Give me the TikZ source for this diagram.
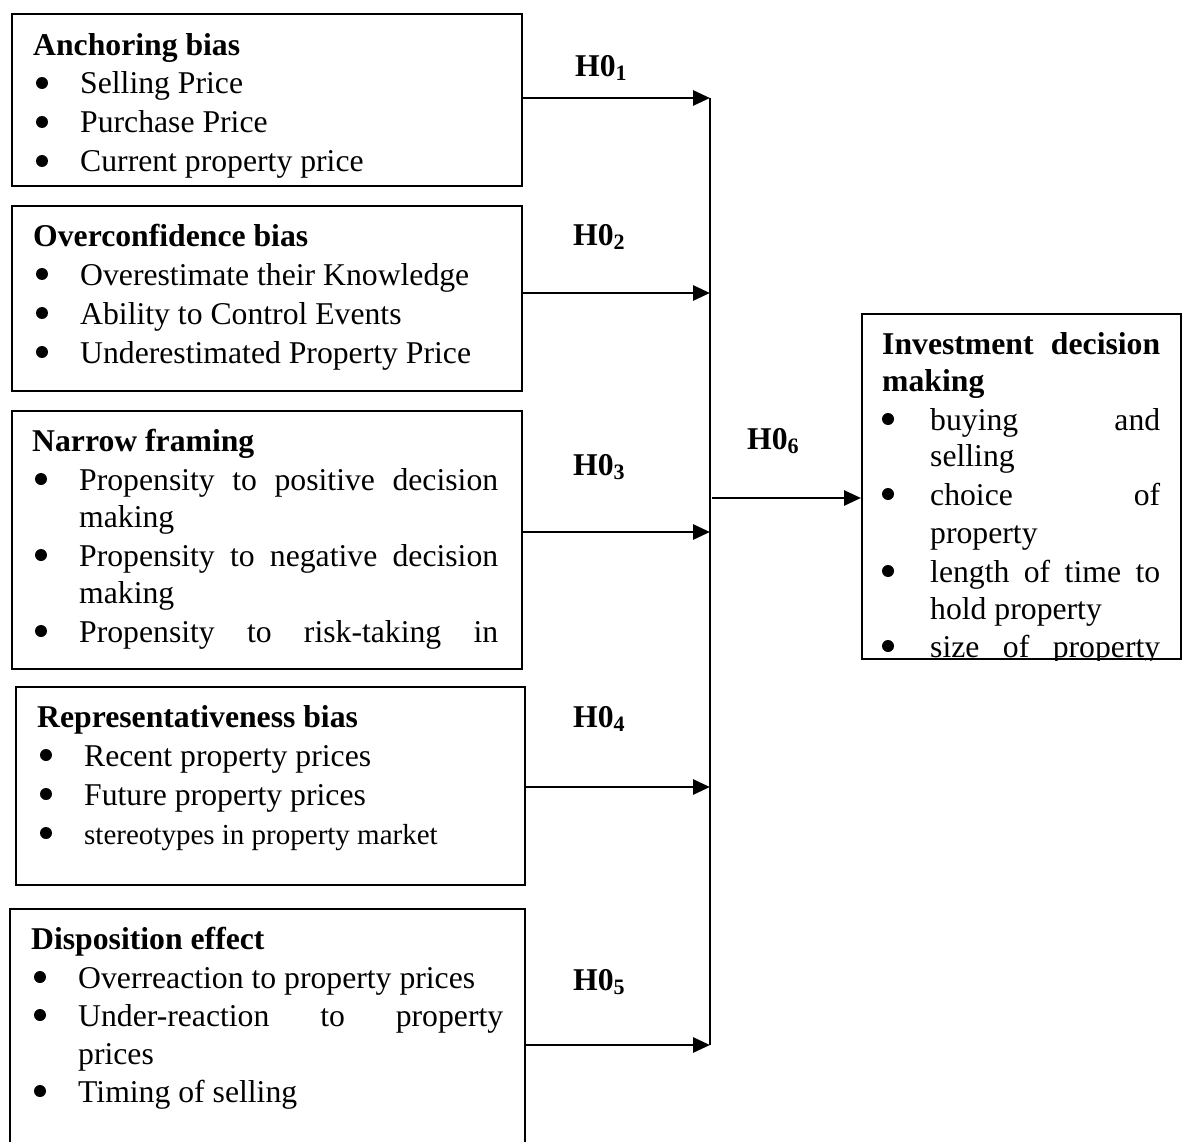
\documentclass[tikz,border=0pt]{standalone}
\usepackage{fontspec}
\setmainfont{Liberation Serif}
\usetikzlibrary{arrows.meta}
\tikzstyle{box}=[draw,line width=2pt,rectangle,anchor=north west,inner sep=0pt]
\tikzstyle{txt}=[anchor=base west,inner sep=0pt,font=\fontsize{31.7}{38}\selectfont]
\tikzstyle{head}=[anchor=base west,inner sep=0pt,font=\fontsize{31.7}{38}\selectfont\bfseries]
\tikzstyle{bus}=[draw,line width=2.8pt]
\tikzstyle{line}=[draw,line width=2.8pt,-{Triangle[length=17pt,width=15pt]}]
\newcommand{\hsub}[1]{H0\raisebox{-4pt}{\fontsize{22}{22}\selectfont #1}}

\begin{document}
\begin{tikzpicture}[x=1pt,y=-1pt]
  \useasboundingbox (0,0) rectangle (1186,1142);
  % boxes
  \node[box,minimum width=510pt,minimum height=172pt] (anchoring) at (11,13) {};
  \node[box,minimum width=510pt,minimum height=185pt] (overconf) at (11,205) {};
  \node[box,minimum width=510pt,minimum height=258pt] (narrow) at (11,410) {};
  \node[box,minimum width=509pt,minimum height=198pt] (repr) at (15,686) {};
  \node[box,minimum width=515pt,minimum height=250pt] (disp) at (9,908) {};
  \node[box,minimum width=319pt,minimum height=345pt] (invest) at (861,313) {};
  % bullets
  \foreach \y in {83,122,161,274,313,352} \fill (42,\y) circle (6pt);
  \foreach \y in {479,555,631} \fill (41,\y) circle (6pt);
  \foreach \y in {755,794,833} \fill (46,\y) circle (6pt);
  \foreach \y in {977,1015,1091} \fill (40,\y) circle (6pt);
  \foreach \y in {419,494,571,646} \fill (888,\y) circle (6pt);
  % anchoring bias
  \node[head] (anchoringT) at (33,56) {Anchoring bias};
  \node[txt] (anchoring1) at (80,94) {Selling Price};
  \node[txt] (anchoring2) at (80,133) {Purchase Price};
  \node[txt] (anchoring3) at (80,172) {Current property price};
  % overconfidence bias
  \node[head] (overconfT) at (33,247) {Overconfidence bias};
  \node[txt] (overconf1) at (80,285) {Overestimate their Knowledge};
  \node[txt] (overconf2) at (80,324) {Ability to Control Events};
  \node[txt] (overconf3) at (80,363) {Underestimated Property Price};
  % narrow framing
  \node[head] (narrowT) at (32,451) {Narrow framing};
  \node[txt] (narrow1) at (79,490) {\makebox[419pt][s]{Propensity to positive decision}};
  \node[txt] (narrow2) at (79,527) {making};
  \node[txt] (narrow3) at (79,566) {\makebox[419pt][s]{Propensity to negative decision}};
  \node[txt] (narrow4) at (79,603) {making};
  \node[txt] (narrow5) at (79,642) {\makebox[419pt][s]{Propensity to risk-taking in}};
  % representativeness bias
  \node[head] (reprT) at (37,727) {Representativeness bias};
  \node[txt] (repr1) at (84,766) {Recent property prices};
  \node[txt] (repr2) at (84,805) {Future property prices};
  \node[txt,font=\fontsize{29}{35}\selectfont] (repr3) at (84,844) {stereotypes in property market};
  % disposition effect
  \node[head] (dispT) at (31,949) {Disposition effect};
  \node[txt] (disp1) at (78,988) {Overreaction to property prices};
  \node[txt] (disp2) at (78,1026) {\makebox[425pt][s]{Under-reaction to property}};
  \node[txt] (disp3) at (78,1064) {prices};
  \node[txt] (disp4) at (78,1102) {Timing of selling};
  % investment decision making
  \begin{scope}
    \clip (invest.north west) rectangle (invest.south east);
    \node[head] (investT) at (882,354) {\makebox[278pt][s]{Investment decision}};
    \node[head] (investT2) at (882,391) {making};
    \node[txt] (invest1) at (930,430) {\makebox[230pt][s]{buying and}};
    \node[txt] (invest2) at (930,466) {selling};
    \node[txt] (invest3) at (930,505) {\makebox[230pt][s]{choice of}};
    \node[txt] (invest4) at (930,543) {property};
    \node[txt] (invest5) at (930,582) {\makebox[230pt][s]{length of time to}};
    \node[txt] (invest6) at (930,619) {hold property};
    \node[txt] (invest7) at (930,657) {\makebox[230pt][s]{size of property}};
  \end{scope}
  % hypotheses
  \node[head] (h1) at (575,77) {\hsub{1}};
  \node[head] (h2) at (573,246) {\hsub{2}};
  \node[head] (h3) at (573,475) {\hsub{3}};
  \node[head] (h4) at (573,727) {\hsub{4}};
  \node[head] (h5) at (573,990) {\hsub{5}};
  \node[head] (h6) at (747,449) {\hsub{6}};
  % connectors
  \coordinate (bus1) at (710,98);
  \coordinate (bus2) at (710,293);
  \coordinate (bus3) at (710,532);
  \coordinate (bus4) at (710,787);
  \coordinate (bus5) at (710,1045);
  \coordinate (bus6) at (712,498);
  \draw[bus] (bus1) -- (bus5);
  \draw[line] (anchoring.east |- bus1) -- (bus1);
  \draw[line] (overconf.east |- bus2) -- (bus2);
  \draw[line] (narrow.east |- bus3) -- (bus3);
  \draw[line] (repr.east |- bus4) -- (bus4);
  \draw[line] (disp.east |- bus5) -- (bus5);
  \draw[line] (bus6) -- (invest.west |- bus6);
\end{tikzpicture}
\end{document}
